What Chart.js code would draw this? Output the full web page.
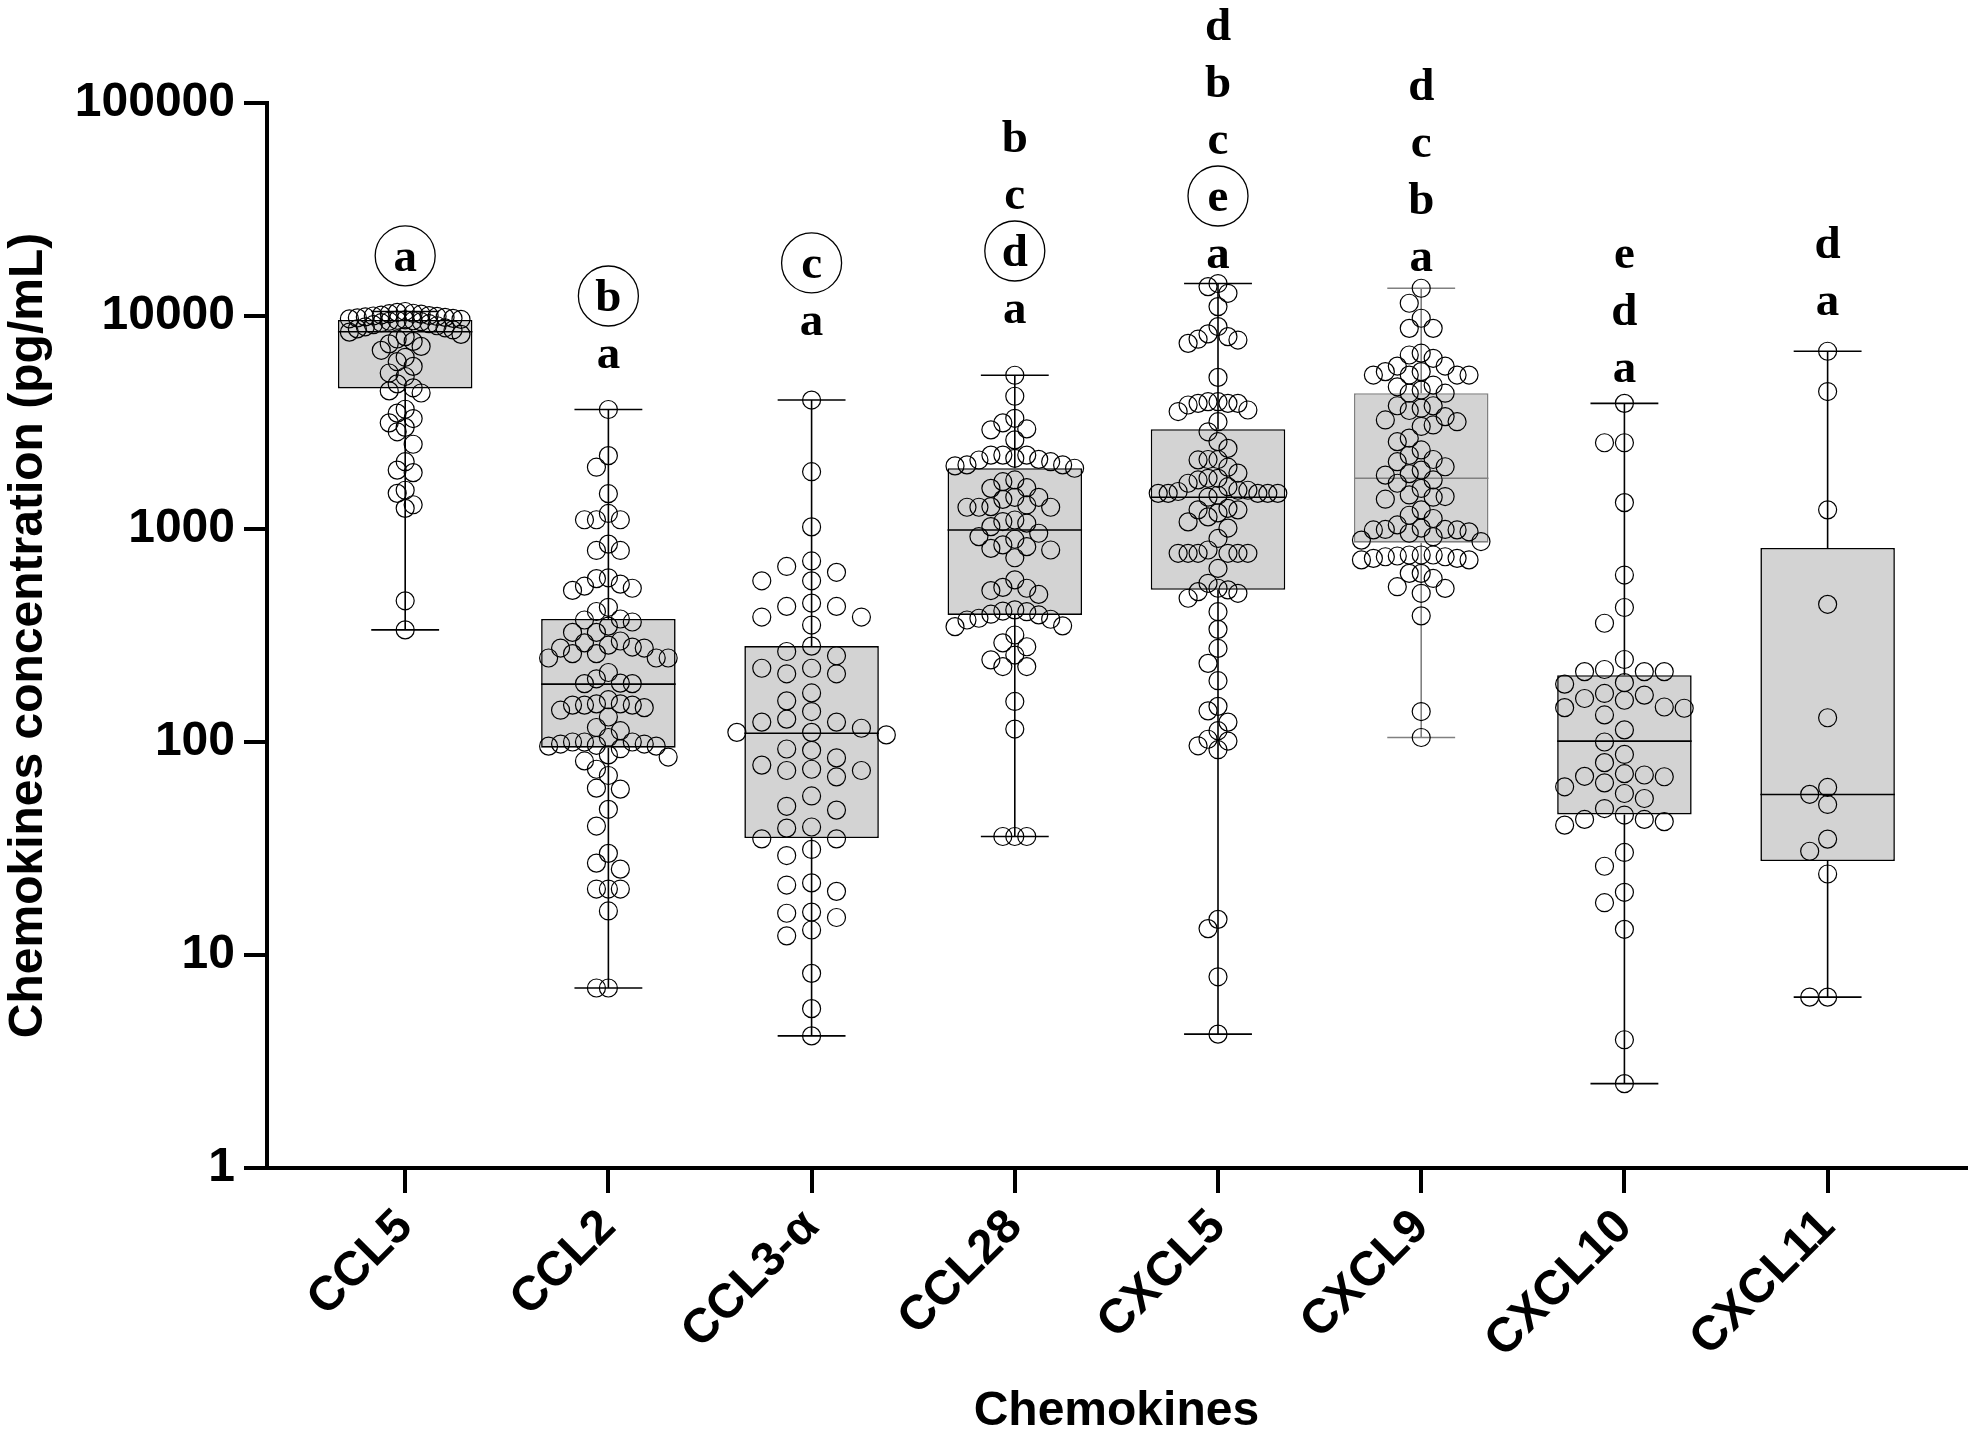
<!DOCTYPE html>
<html lang="en">

<head>
    <meta charset="UTF-8">
    <title>Chemokines</title>
    <style>
        body { margin: 0; background: #fff; }
    </style>
</head>

<body>
    <canvas id="chart" width="1976" height="1432"></canvas>
</body>

<script src="https://cdn.jsdelivr.net/npm/chart.js@4.4.1/dist/chart.umd.min.js"></script>

<script type="text/javascript" charset="utf-8">
    // ---- data ----
    var categories = ['CCL5', 'CCL2', 'CCL3-α', 'CCL28', 'CXCL5', 'CXCL9', 'CXCL10', 'CXCL11'];
    var yTicks = [1, 10, 100, 1000, 10000, 100000];

    // box plot summary (min, Q1, median, Q3, max), pg/mL
    var boxMin = [336, 7.0, 4.17, 36, 4.25, 105, 2.49, 6.34];
    var boxQ1 = [4570, 94, 35.4, 395, 518, 863, 45.7, 27.6];
    var boxMedian = [8430, 187, 110, 990, 1410, 1730, 101, 56.7];
    var boxQ3 = [9580, 378, 282, 1930, 2940, 4340, 206, 815];
    var boxMax = [10500, 3640, 4030, 5270, 14200, 13500, 3890, 6830];

    // individual samples
    var ccl5 = [10500, 10400, 10300, 10250, 10200, 10100, 10050, 10000, 9950, 9900, 9850, 9800, 9750, 9700,
        9650, 9600, 9550, 9500, 9450, 9400, 9300, 9200, 9100, 9000, 8900, 8800, 8700, 8600,
        8400, 8200, 8000, 7800, 7600, 7400, 7200, 6900, 6400, 6100, 5800, 5400, 5200, 4800, 4600, 4450, 4350,
        3650, 3500, 3300, 3150, 3000, 2860, 2500, 2070, 1890, 1840, 1520, 1470, 1300, 1250, 460, 336];
    var ccl2 = [3640, 2210, 1950, 1465, 1183, 1105, 1105, 1105, 849, 793, 793,
        590, 585, 551, 539, 527, 515, 429, 410, 378, 374, 366, 350, 327, 327,
        298, 292, 285, 279, 276, 276, 260, 260, 248, 248, 248,
        212, 198, 189, 188, 188, 158, 151, 151, 149, 149, 149, 145, 141,
        131, 117, 113, 105, 100, 100, 93, 96.5, 95.6, 95.6, 97.8, 100, 97.8,
        87, 85, 81.5, 74.5, 69.6, 60.7, 60.1, 48.3, 40.3, 30, 27, 25.3, 20.4, 20.4, 20.4, 16.1, 7.0, 7.0];
    var ccl3 = [4030, 1858, 1023, 708, 667, 626, 571, 571, 449, 433, 433, 386, 386, 354,
        282, 266, 254, 222, 222, 209, 209, 170, 156, 139, 128, 124, 124, 116, 111, 111, 108,
        92.7, 91.4, 84.2, 77.9, 74.5, 73.5, 73.5, 68.6, 55.8, 49.9, 47.9, 39.9, 39.4, 35.1, 35.1,
        31.3, 29.3, 21.8, 21.3, 19.9, 15.9, 15.7, 15, 13.1, 12.3, 8.2, 5.6, 4.17];
    var ccl28 = [5270, 4200, 3310, 3150, 2950, 2920, 2620,
        2223, 2223, 2223, 2147, 2123, 2108, 2070, 2000, 2000, 1978, 1928,
        1700, 1668, 1563, 1552, 1409, 1409, 1378, 1297, 1274, 1265, 1265, 1265,
        1102, 1084, 1065, 1026, 955, 921, 895, 842, 826, 811, 797, 733,
        577, 532, 527, 514, 493, 417, 412, 409, 398, 395, 381, 377, 374,
        351, 348, 318, 292, 280, 256, 243, 226, 226, 155, 115, 36, 36, 36];
    var cxcl5 = [14200, 13740, 12780, 11070, 8920, 8240, 8000, 7780, 7710, 7440, 5150,
        3960, 3960, 3890, 3890, 3890, 3820, 3620, 3560, 3190, 2860,
        2570, 2390, 2120, 2120, 2110, 1950, 1830, 1730, 1730, 1700, 1640, 1580, 1520, 1520, 1500,
        1470, 1470, 1470, 1470, 1470, 1440, 1410,
        1250, 1230, 1230, 1190, 1140, 1080, 1010, 903, 797, 769, 769, 769, 769, 769, 769, 653,
        556, 527, 518, 508, 499, 473, 409, 338, 275, 234, 194,
        147, 140, 124, 113, 103, 101, 96, 92, 14.7, 13.3, 7.9, 4.25];
    var cxcl9 = [13500, 11480, 9760, 8750, 8750,
        6560, 6690, 6330, 5820, 5820, 5280, 5280, 5480, 5480, 5280, 5280,
        4740, 4650, 4490, 4340, 4340,
        3790, 3790, 3690, 3600, 3370, 3250, 3190, 3030, 3080, 2670, 2570,
        2350, 2220, 2120, 2070, 1960, 1890, 1820, 1790,
        1700, 1640, 1550, 1420, 1410, 1380, 1445,
        1230, 1160, 1120, 1045, 1010, 990, 970, 995, 990, 955, 995, 920, 887, 873,
        755, 728, 741, 716, 716, 728, 741, 755, 755, 747, 619, 619,
        586, 536, 526, 499, 391, 139, 105];
    var cxcl10 = [3890, 2540, 2540, 1330, 608, 428, 361, 244, 214, 214, 214, 219,
        190, 187, 169, 157, 166, 160, 146, 144, 145, 134,
        114, 100, 87.4, 80, 71, 70, 69, 68.7, 64.3, 61.6, 57.3, 54.3,
        48.7, 45.4, 43.3, 43.3, 40.7, 42.3, 30.3, 26.1, 19.7, 17.6, 13.2, 4.0, 2.49];
    var cxcl11 = [6830, 4420, 1230, 443, 130, 61.2, 56.8, 50.9, 35, 30.7, 24, 6.34, 6.34];
    var groupValues = [ccl5, ccl2, ccl3, ccl28, cxcl5, cxcl9, cxcl10, cxcl11];

    // significance letters, bottom to top; the circled letter of each group
    var letters = [['a'], ['a', 'b'], ['a', 'c'], ['a', 'd', 'c', 'b'], ['a', 'e', 'c', 'b', 'd'],
        ['a', 'b', 'c', 'd'], ['a', 'd', 'e'], ['a', 'd']];
    var circled = ['a', 'b', 'c', 'd', 'e', '', '', ''];
    // value (pg/mL) at the baseline of the lowest letter
    var letterBase = [16300, 5700, 8150, 9270, 16800, 16300, 4900, 10100];

    // ---- styles ----
    var boxLineColors = ['#000', '#000', '#000', '#000', '#000', '#808080', '#000', '#000'];
    var swarmStep = [8, 12, 25, 12, 10, 12, 20, 18];     // px between swarm columns
    var swarmHalf = [60, 74, 75, 62, 60, 62, 60, 54];    // px, widest column offset
    var capHalf = 0.167, medianHalf = 0.331;

    function boxLines(i) {
        var x = i + 1;
        return [
            { x: x, y: boxMin[i] }, { x: x, y: boxQ1[i] }, { x: x, y: null },
            { x: x, y: boxQ3[i] }, { x: x, y: boxMax[i] }, { x: x, y: null },
            { x: x - capHalf, y: boxMin[i] }, { x: x + capHalf, y: boxMin[i] }, { x: x, y: null },
            { x: x - capHalf, y: boxMax[i] }, { x: x + capHalf, y: boxMax[i] }, { x: x, y: null },
            { x: x - medianHalf, y: boxMedian[i] }, { x: x + medianHalf, y: boxMedian[i] }
        ];
    }

    var datasets = [];
    datasets.push({
        type: 'scatter',
        label: 'samples',
        data: [],
        pointRadius: 9,
        pointHoverRadius: 9,
        pointBackgroundColor: 'rgba(0,0,0,0)',
        pointBorderColor: '#000',
        pointBorderWidth: 1.2,
        order: 1,
        clip: false
    });
    categories.forEach(function (c, i) {
        datasets.push({
            type: 'line',
            label: c + ' whiskers',
            data: boxLines(i),
            borderColor: boxLineColors[i],
            borderWidth: 1.6,
            pointRadius: 0,
            spanGaps: false,
            order: 2
        });
    });
    datasets.push({
        type: 'bar',
        label: 'boxes',
        data: categories.map(function (c, i) { return { x: i + 1, y: [boxQ1[i], boxQ3[i]] }; }),
        backgroundColor: '#d3d3d3',
        borderColor: boxLineColors,
        borderWidth: 1.6,
        borderSkipped: false,
        barPercentage: 0.662,
        categoryPercentage: 1,
        order: 3
    });

    // letters above each box
    var lettersPlugin = {
        id: 'letters',
        afterDraw: function (chart) {
            var ctx = chart.ctx, xs = chart.scales.x, ys = chart.scales.y;
            ctx.save();
            ctx.fillStyle = '#000';
            ctx.strokeStyle = '#000';
            ctx.lineWidth = 1.3;
            ctx.font = 'bold 47px "Liberation Serif", "Times New Roman", serif';
            ctx.textAlign = 'center';
            ctx.textBaseline = 'alphabetic';
            letters.forEach(function (list, i) {
                var x = xs.getPixelForValue(i + 1);
                var base = ys.getPixelForValue(letterBase[i]);
                list.forEach(function (l, j) {
                    var y = base - j * 57;
                    ctx.fillText(l, x, y);
                    if (circled[i] === l) {
                        ctx.beginPath();
                        ctx.ellipse(x, y - 15, 30, 30, 0, 0, 2 * Math.PI);
                        ctx.stroke();
                    }
                });
            });
            ctx.restore();
        }
    };

    var ctx = document.getElementById('chart').getContext('2d');
    var chart = new Chart(ctx, {
        type: 'bar',
        data: { datasets: datasets },
        plugins: [lettersPlugin],
        options: {
            responsive: false,
            devicePixelRatio: 1,
            animation: false,
            layout: { padding: { top: 103, right: 4, left: 0, bottom: 0 } },
            plugins: { legend: { display: false }, tooltip: { enabled: false } },
            scales: {
                x: {
                    type: 'linear',
                    min: 0.32,
                    max: 8.68,
                    offset: false,
                    afterBuildTicks: function (scale) {
                        scale.ticks = categories.map(function (c, i) { return { value: i + 1 }; });
                    },
                    afterFit: function (scale) { scale.height = 264; },
                    ticks: {
                        color: '#000',
                        minRotation: 45,
                        maxRotation: 45,
                        padding: 6,
                        font: { family: '"Liberation Sans", Arial, sans-serif', size: 48, weight: 'bold' },
                        callback: function (v) { return categories[v - 1]; }
                    },
                    grid: {
                        offset: false,
                        drawOnChartArea: false,
                        drawTicks: true,
                        tickLength: 25,
                        color: '#000',
                        lineWidth: 4
                    },
                    border: { display: true, color: '#000', width: 4 },
                    title: {
                        display: true,
                        text: 'Chemokines',
                        color: '#000',
                        padding: { top: 0, bottom: 0 },
                        font: { family: '"Liberation Sans", Arial, sans-serif', size: 48, weight: 'bold', lineHeight: 0.85 }
                    }
                },
                y: {
                    type: 'logarithmic',
                    min: 1,
                    max: 100000,
                    afterBuildTicks: function (scale) {
                        scale.ticks = yTicks.map(function (v) { return { value: v }; });
                    },
                    afterFit: function (scale) { scale.width = 267; },
                    ticks: {
                        color: '#000',
                        padding: 9,
                        font: { family: '"Liberation Sans", Arial, sans-serif', size: 48, weight: 'bold' },
                        callback: function (v) { return String(v); }
                    },
                    grid: {
                        drawOnChartArea: false,
                        drawTicks: true,
                        tickLength: 23,
                        color: '#000',
                        lineWidth: 4
                    },
                    border: { display: true, color: '#000', width: 4 },
                    title: {
                        display: true,
                        text: 'Chemokines concentration (pg/mL)',
                        color: '#000',
                        padding: { top: 0, bottom: 0 },
                        font: { family: '"Liberation Sans", Arial, sans-serif', size: 48, weight: 'bold' }
                    }
                }
            }
        }
    });

    // Spread the samples sideways (swarm), using the laid-out scales
    function placeSwarm(chart) {
        var xs = chart.scales.x, ys = chart.scales.y;
        var pxPerUnit = xs.getPixelForValue(2) - xs.getPixelForValue(1);
        var minDy = 17;
        var out = [];
        groupValues.forEach(function (vals, i) {
            var step = swarmStep[i];
            var maxCol = Math.floor(swarmHalf[i] / step);
            var placed = [];
            vals.slice().sort(function (a, b) { return b - a; }).forEach(function (v) {
                var py = ys.getPixelForValue(v);
                var best = null, bestGap = -1;
                for (var k = 0; k <= 2 * maxCol; k++) {
                    var col = (k % 2 === 1 ? -1 : 1) * Math.ceil(k / 2);
                    var gap = Infinity;
                    placed.forEach(function (p) {
                        if (p.col === col) gap = Math.min(gap, Math.abs(p.py - py));
                    });
                    if (gap >= minDy) { best = col; break; }
                    if (gap > bestGap) { bestGap = gap; best = col; }
                }
                placed.push({ col: best, py: py });
                out.push({ x: i + 1 + best * step / pxPerUnit, y: v });
            });
        });
        chart.data.datasets[0].data = out;
        chart.update('none');
    }
    placeSwarm(chart);
</script>

</html>
